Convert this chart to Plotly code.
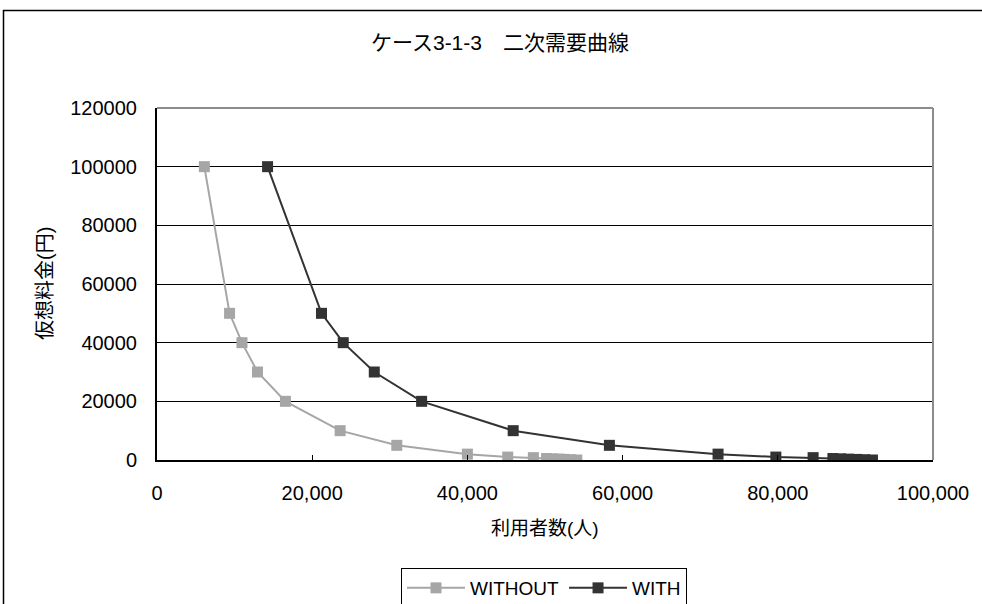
import plotly.graph_objects as go

# Hypothetical fare (yen) for each demand point
price = [100000, 50000, 40000, 30000, 20000, 10000, 5000, 2000, 1000, 800,
         500, 400, 300, 200, 100, 0]
# Number of users without the project
users_without = [6100, 9350, 10950, 12950, 16550, 23600, 30900, 40000, 45200, 48500,
                 50200, 51000, 51800, 52500, 53300, 54100]
# Number of users with the project
users_with = [14250, 21200, 24000, 28000, 34100, 45900, 58300, 72300, 79750, 84550,
              87100, 88100, 89100, 90200, 91200, 92200]

x_ticks = [0, 20000, 40000, 60000, 80000, 100000]
x_tick_text = ["0", "20,000", "40,000", "60,000", "80,000", "100,000"]
y_ticks = [0, 20000, 40000, 60000, 80000, 100000, 120000]

FONT = "Liberation Sans, Noto Sans CJK JP, sans-serif"
W, H = 982, 604
L, R, T, B = 157, 49, 108, 144
PW, PH = W - L - R, H - T - B


def px_x(p):
    return (p - L) / PW


def px_y(p):
    return (H - B - p) / PH


fig = go.Figure()
fig.add_trace(go.Scatter(
    x=users_without, y=price, name="WITHOUT", mode="lines+markers",
    line=dict(color="#a6a6a6", width=2),
    marker=dict(symbol="square", size=11, color="#a6a6a6"),
))
fig.add_trace(go.Scatter(
    x=users_with, y=price, name="WITH", mode="lines+markers",
    line=dict(color="#333333", width=2),
    marker=dict(symbol="square", size=11, color="#333333"),
))

fig.update_layout(
    width=W, height=H,
    margin=dict(l=L, r=R, t=T, b=B, autoexpand=False),
    paper_bgcolor="white", plot_bgcolor="white",
    font=dict(family=FONT, size=18, color="black"),
    showlegend=True,
    legend=dict(
        orientation="h", x=px_x(401), y=px_y(568), xanchor="left", yanchor="top",
        bordercolor="black", borderwidth=1, font=dict(size=19),
        bgcolor="white", itemwidth=58,
    ),
    xaxis=dict(
        range=[0, 100000], tickvals=x_ticks, ticktext=x_tick_text,
        showgrid=False, zeroline=False, showline=True, linecolor="black", linewidth=2,
        ticks="inside", ticklen=5, tickcolor="black", ticklabelstandoff=14,
        tickfont=dict(size=20),
    ),
    yaxis=dict(
        range=[0, 120000], tickvals=y_ticks, tickformat="d",
        showgrid=True, gridcolor="black", gridwidth=1,
        zeroline=False, showline=True, linecolor="black", linewidth=2,
        ticks="inside", ticklen=5, tickcolor="black", ticklabelstandoff=14,
        tickfont=dict(size=20),
    ),
    annotations=[
        dict(text="ケース3-1-3　二次需要曲線", x=px_x(500), y=px_y(42),
             xref="paper", yref="paper", showarrow=False,
             xanchor="center", yanchor="middle", font=dict(size=21)),
        dict(text="利用者数(人)", x=0.5, y=px_y(528),
             xref="paper", yref="paper", showarrow=False,
             xanchor="center", yanchor="middle", font=dict(size=19)),
        dict(text="仮想料金(円)", x=px_x(45), y=0.5, textangle=-90,
             xref="paper", yref="paper", showarrow=False,
             xanchor="center", yanchor="middle", font=dict(size=20)),
    ],
    shapes=[
        # plot-area frame on the top and right sides
        dict(type="line", xref="paper", yref="paper", x0=0, x1=1, y0=1, y1=1,
             line=dict(color="#8c8c8c", width=2), layer="above"),
        dict(type="line", xref="paper", yref="paper", x0=1, x1=1, y0=0, y1=1,
             line=dict(color="#8c8c8c", width=2), layer="above"),
        # outer chart border
        dict(type="rect", xref="paper", yref="paper",
             x0=px_x(3.5), x1=px_x(1000), y0=px_y(630), y1=px_y(10.5),
             line=dict(color="black", width=1.5), layer="below"),
    ],
)

fig.write_html("out.html")
